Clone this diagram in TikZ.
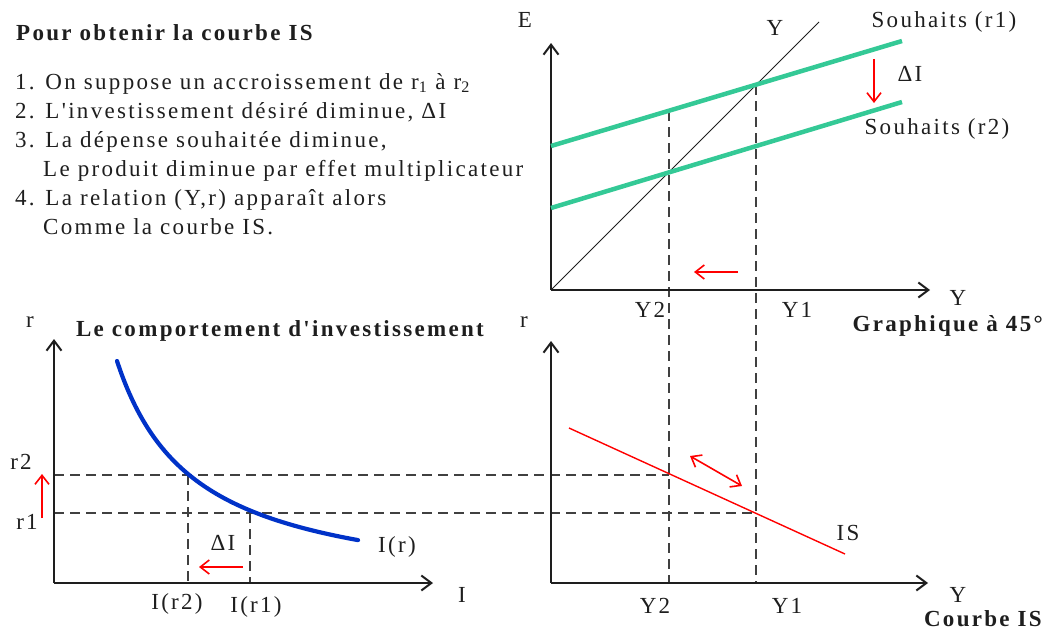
\documentclass[tikz,border=0pt]{standalone}
\usepackage{fontspec}
\newfontfamily\plainserif{Liberation Serif}[LetterSpace=10]
\usetikzlibrary{arrows.meta}
\definecolor{grn}{RGB}{52,201,150}
\definecolor{blu}{RGB}{0,50,200}
\definecolor{ink}{RGB}{30,30,30}
\begin{document}
\begin{tikzpicture}[x=1pt,y=-1pt,
  font=\plainserif\fontsize{23}{27}\selectfont, text=ink,
  lbl/.style={inner sep=0pt},
  txt/.style={inner sep=0pt, anchor=base west},
  ttl/.style={inner sep=0pt, font=\plainserif\fontsize{23}{27}\selectfont\bfseries},
  axis/.style={draw=ink, line width=2pt, -{Straight Barb[length=10pt,width=15pt,line width=2pt]}},
  guide/.style={draw=ink!85, line width=1.4pt, dash pattern=on 10pt off 6pt},
  redarr/.style={draw=red, line width=1.6pt, -{Straight Barb[length=9pt,width=14pt,line width=1.6pt]}},
  green/.style={draw=grn, line width=4.5pt},
]
\useasboundingbox (0,0) rectangle (1048,629);

% ---- text block ----
\node[ttl, anchor=base west] (t0) at (16,40) {Pour obtenir la courbe IS};
\node[txt] (t1) at (15,89) {1. On suppose un accroissement de r\textsubscript{1} à r\textsubscript{2}};
\node[txt] (t2) at (15,118) {2. L'investissement désiré diminue, ΔI};
\node[txt] (t3) at (15,147) {3. La dépense souhaitée diminue,};
\node[txt] (t3b) at (43,176) {Le produit diminue par effet multiplicateur};
\node[txt] (t4) at (15,205) {4. La relation (Y,r) apparaît alors};
\node[txt] (t4b) at (43,234) {Comme la courbe IS.};

% ---- top right: 45 degree graph ----
\coordinate (O1) at (551,290);
\coordinate (Etip) at (551,43);
\coordinate (Ytip1) at (930,290);
\coordinate (D45) at (819,22);
\coordinate (G1a) at (551,146);
\coordinate (G1b) at (902,41);
\coordinate (G2a) at (551,208);
\coordinate (G2b) at (902,102);
\coordinate (P1) at (756,85);
\coordinate (Q2) at (669,111);

% ---- bottom left ----
\coordinate (O2) at (54,583);
\coordinate (rtip2) at (54,339);
\coordinate (Itip) at (433,583);
\coordinate (R2L) at (54,475);
\coordinate (R1L) at (54,513);
\coordinate (C2) at (188,475);
\coordinate (C1) at (250,513);
\coordinate (C2b) at (188,583);
\coordinate (C1b) at (250,583);

% ---- bottom right ----
\coordinate (O3) at (551,583);
\coordinate (rtip3) at (551,341);
\coordinate (Ytip3) at (928,583);
\coordinate (S2) at (669,475);
\coordinate (S1) at (756,513);
\coordinate (B2) at (669,583);
\coordinate (B1) at (756,583);
\coordinate (ISa) at (569,428);
\coordinate (ISb) at (845,554);

% guides
\draw[guide] (Q2) -- (B2);
\draw[guide] (P1) -- (B1);
\draw[guide] (R2L) -- (S2);
\draw[guide] (R1L) -- (S1);
\draw[guide] (C2) -- (C2b);
\draw[guide] (C1) -- (C1b);

% axes
\draw[axis] (O1) -- (Etip);
\draw[axis] (O1) -- (Ytip1);
\draw[axis] (O2) -- (rtip2);
\draw[axis] (O2) -- (Itip);
\draw[axis] (O3) -- (rtip3);
\draw[axis] (O3) -- (Ytip3);

% 45 degree line
\draw[ink, line width=0.8pt] (O1) -- (D45);
% desired spending lines
\draw[green] (G1a) -- (G1b);
\draw[green] (G2a) -- (G2b);

% investment curve
\draw[blu, line width=4.2pt, line cap=round]
  plot[domain=117:358, samples=80, smooth] (\x, {583 - 1846.4/((\x-39.1)/10) + 15});

% IS line
\draw[red, line width=1.4pt] (ISa) -- (ISb);

% red arrows
\coordinate (A1s) at (738,272); \coordinate (A1e) at (694,272);
\coordinate (A2s) at (874,59);  \coordinate (A2e) at (874,103);
\coordinate (A3s) at (42,518);  \coordinate (A3e) at (42,474);
\coordinate (A4s) at (243,567); \coordinate (A4e) at (199,567);
\coordinate (A5s) at (690,456); \coordinate (A5e) at (742,486);
\draw[redarr] (A1s) -- (A1e);
\draw[redarr] (A2s) -- (A2e);
\draw[redarr] (A3s) -- (A3e);
\draw[redarr] (A4s) -- (A4e);
\draw[redarr, {Straight Barb[length=9pt,width=14pt,line width=1.6pt]}-{Straight Barb[length=9pt,width=14pt,line width=1.6pt]}] (A5s) -- (A5e);

% labels top right
\node[lbl] (lE) at (525,20) {E};
\node[lbl] (lY45) at (775,28) {Y};
\node[lbl] (lS1) at (944,22) {Souhaits (r1)};
\node[lbl] (lDI1) at (910,74) {ΔI};
\node[lbl] (lS2) at (937,129) {Souhaits (r2)};
\node[lbl] (lYa) at (958,298) {Y};
\node[lbl] (lY2a) at (650,310) {Y2};
\node[lbl] (lY1a) at (797,310) {Y1};
\node[ttl, anchor=east] (g45) at (1043,326) {Graphique à 45°};

% labels bottom left
\node[lbl] (lr2) at (30,322) {r};
\node[ttl] (tinv) at (280,331) {Le comportement d'investissement};
\node[lbl] (lr2v) at (21,462) {r2};
\node[lbl] (lr1v) at (27,522) {r1};
\node[lbl] (lDI2) at (223,543) {ΔI};
\node[lbl] (lIr) at (397,547) {I(r)};
\node[lbl] (lIr2) at (177,604) {I(r2)};
\node[lbl] (lIr1) at (256,607) {I(r1)};
\node[lbl] (lI) at (462,595) {I};

% labels bottom right
\node[lbl] (lr3) at (524,322) {r};
\node[lbl] (lYb) at (958,595) {Y};
\node[lbl] (lY2b) at (655,606) {Y2};
\node[lbl] (lY1b) at (787,606) {Y1};
\node[lbl] (lIS) at (848,533) {IS};
\node[ttl, anchor=base east] (cIS) at (1042,626) {Courbe IS};
\end{tikzpicture}
\end{document}
